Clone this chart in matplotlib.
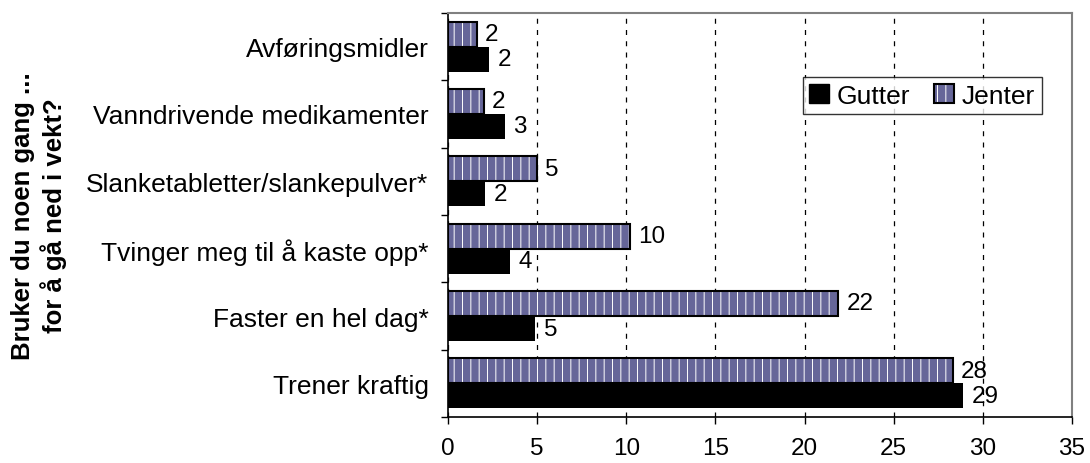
import matplotlib
matplotlib.use("Agg")
import matplotlib.pyplot as plt
import numpy as np
from matplotlib.patches import Patch

# data, listed bottom to top
categories = [
    "Trener kraftig",
    "Faster en hel dag*",
    "Tvinger meg til å kaste opp*",
    "Slanketabletter/slankepulver*",
    "Vanndrivende medikamenter",
    "Avføringsmidler",
]
gutter = [28.9, 4.9, 3.5, 2.1, 3.2, 2.3]
jenter = [28.3, 21.9, 10.2, 5.0, 2.0, 1.6]
gutter_labels = [29, 5, 4, 2, 3, 2]
jenter_labels = [28, 22, 10, 5, 2, 2]
x_ticks = [0, 5, 10, 15, 20, 25, 30, 35]

plt.rcParams["font.family"] = ["Liberation Sans", "DejaVu Sans"]
plt.rcParams["hatch.color"] = "white"
plt.rcParams["hatch.linewidth"] = 0.7

FS = 19
FS_NUM = 17.5
JENTER_FACE = "#666699"

fig = plt.figure(figsize=(10.9, 4.64), dpi=100)
ax = fig.add_axes([0.411, 0.099, 0.5725, 0.871])

y = np.arange(len(categories))
h = 0.37
off = 0.186

# Gutter (black)
ax.barh(y - off, gutter, height=h, color="black", zorder=3)
# Jenter: hatched fill + black outline
ax.barh(y + off, jenter, height=h, color=JENTER_FACE, hatch="||",
        linewidth=0, zorder=3)
ax.barh(y + off, jenter, height=h, fill=False, edgecolor="black",
        linewidth=1.5, zorder=4)

for yi, v, lab in zip(y - off, gutter, gutter_labels):
    ax.annotate(str(lab), (v, yi), xytext=(6, 0), textcoords="offset points",
                ha="left", va="center", fontsize=FS_NUM)
for yi, v, lab in zip(y + off, jenter, jenter_labels):
    ax.annotate(str(lab), (v, yi), xytext=(6, 0), textcoords="offset points",
                ha="left", va="center", fontsize=FS_NUM)

ax.set_xlim(0, 35)
ax.set_ylim(-0.5, len(categories) - 0.5)
ax.set_xticks(x_ticks)
ax.set_xticklabels([str(t) for t in x_ticks], fontsize=FS_NUM)

ax.set_yticks(np.arange(-0.5, len(categories), 1.0))
ax.set_yticklabels([])
ax.set_yticks(y, minor=True)
ax.set_yticklabels(categories, minor=True, fontsize=FS)
ax.tick_params(axis="y", which="minor", length=0, pad=14)
ax.tick_params(axis="y", which="major", direction="out", length=5, width=1)
ax.tick_params(axis="x", direction="out", length=5, width=1, pad=9)

ax.grid(axis="x", color="black", linestyle=(0, (4, 5)), linewidth=0.9, zorder=0)
ax.set_axisbelow(True)

for side in ("left", "bottom"):
    ax.spines[side].set_color("black")
    ax.spines[side].set_linewidth(1.2)
for side in ("top", "right"):
    ax.spines[side].set_color("#808080")
    ax.spines[side].set_linewidth(1.5)

fig.text(0.036, 0.535, "Bruker du noen gang ...\nfor å gå ned i vekt?",
         rotation=90, ha="center", va="center", fontsize=18.5,
         fontweight="bold", multialignment="center", linespacing=1.22)

# legend
h_g = Patch(facecolor="black", edgecolor="black")
h_j_fill = Patch(facecolor=JENTER_FACE, hatch="||", linewidth=0)
h_j_edge = Patch(fill=False, edgecolor="black", linewidth=1.5)
leg = ax.legend([h_g, (h_j_fill, h_j_edge)], ["Gutter", "Jenter"], ncol=2,
                loc="center", bbox_to_anchor=(0.76, 0.795), fontsize=FS,
                frameon=True, fancybox=False, edgecolor="black",
                handlelength=0.75, handleheight=0.75, handletextpad=0.3,
                columnspacing=0.9, borderpad=0.25, borderaxespad=0)
leg.get_frame().set_linewidth(1.0)

fig.savefig("out.png", dpi=100)
